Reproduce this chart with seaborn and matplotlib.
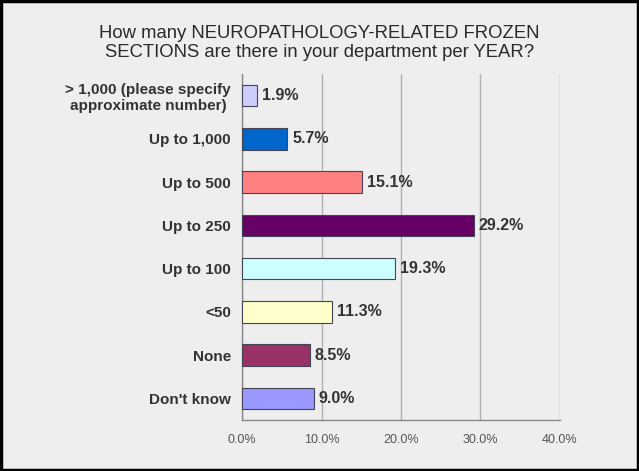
import pandas as pd
import seaborn as sns
import matplotlib.pyplot as plt
from matplotlib.patches import Rectangle
from matplotlib.ticker import FixedLocator, PercentFormatter

categories = ['> 1,000 (please specify\napproximate number)', 'Up to 1,000', 'Up to 500',
              'Up to 250', 'Up to 100', '<50', 'None', "Don't know"]
values = [1.9, 5.7, 15.1, 29.2, 19.3, 11.3, 8.5, 9.0]
colors = ['#CCCCFF', '#0066CC', '#FF8080', '#660066', '#CCFFFF', '#FFFFCC', '#993366', '#9999FF']
x_ticks = [0, 10, 20, 30, 40]

df = pd.DataFrame({'cat': categories, 'val': values})

sns.set_style('white')
plt.rcParams['font.family'] = ['Liberation Sans', 'DejaVu Sans']

fig = plt.figure(figsize=(6.39, 4.71), dpi=100, facecolor='#EEEEEE')
ax = fig.add_axes([0.379, 0.108, 0.497, 0.735])
ax.set_facecolor('#EEEEEE')

sns.barplot(data=df, x='val', y='cat', hue='cat', palette=colors, legend=False,
            saturation=1, width=0.5, edgecolor='#444455', linewidth=0.8, ax=ax, zorder=3)

for i, v in enumerate(values):
    ax.text(v + 0.6, i, f'{v:.1f}%', va='center', ha='left', fontsize=11.5,
            fontweight='bold', color='#333333')

ax.set_xlim(0, 40)
ax.set_ylim(7.5, -0.5)
ax.xaxis.set_major_locator(FixedLocator(x_ticks))
ax.xaxis.set_major_formatter(PercentFormatter(decimals=1))
ax.grid(axis='x', color='#B0B0B0', linewidth=1, zorder=0)
ax.set_axisbelow(True)

ax.tick_params(axis='x', labelsize=9, labelcolor='#555555', length=4, color='#888888',
               direction='out', pad=6)
ax.tick_params(axis='y', which='major', length=0, labelsize=11, pad=8)
for lab in ax.get_yticklabels():
    lab.set_fontweight('bold')
    lab.set_color('#333333')
    lab.set_multialignment('center')
ax.yaxis.set_minor_locator(FixedLocator([i - 0.5 for i in range(9)]))
ax.tick_params(axis='y', which='minor', length=4, color='#888888', direction='out')

for s in ['top', 'right']:
    ax.spines[s].set_visible(False)
for s in ['left', 'bottom']:
    ax.spines[s].set_color('#888888')
    ax.spines[s].set_linewidth(1)

ax.set_xlabel('')
ax.set_ylabel('')

fig.text(0.5, 0.909, 'How many NEUROPATHOLOGY-RELATED FROZEN\nSECTIONS are there in your department per YEAR?',
         ha='center', va='center', fontsize=13.3, color='#2a2a2a', linespacing=1.2)

fig.patches.append(Rectangle((0.002, 0.003), 0.996, 0.994, transform=fig.transFigure,
                             fill=False, edgecolor='black', linewidth=2.5))

fig.savefig('out.png', dpi=100, facecolor=fig.get_facecolor())
